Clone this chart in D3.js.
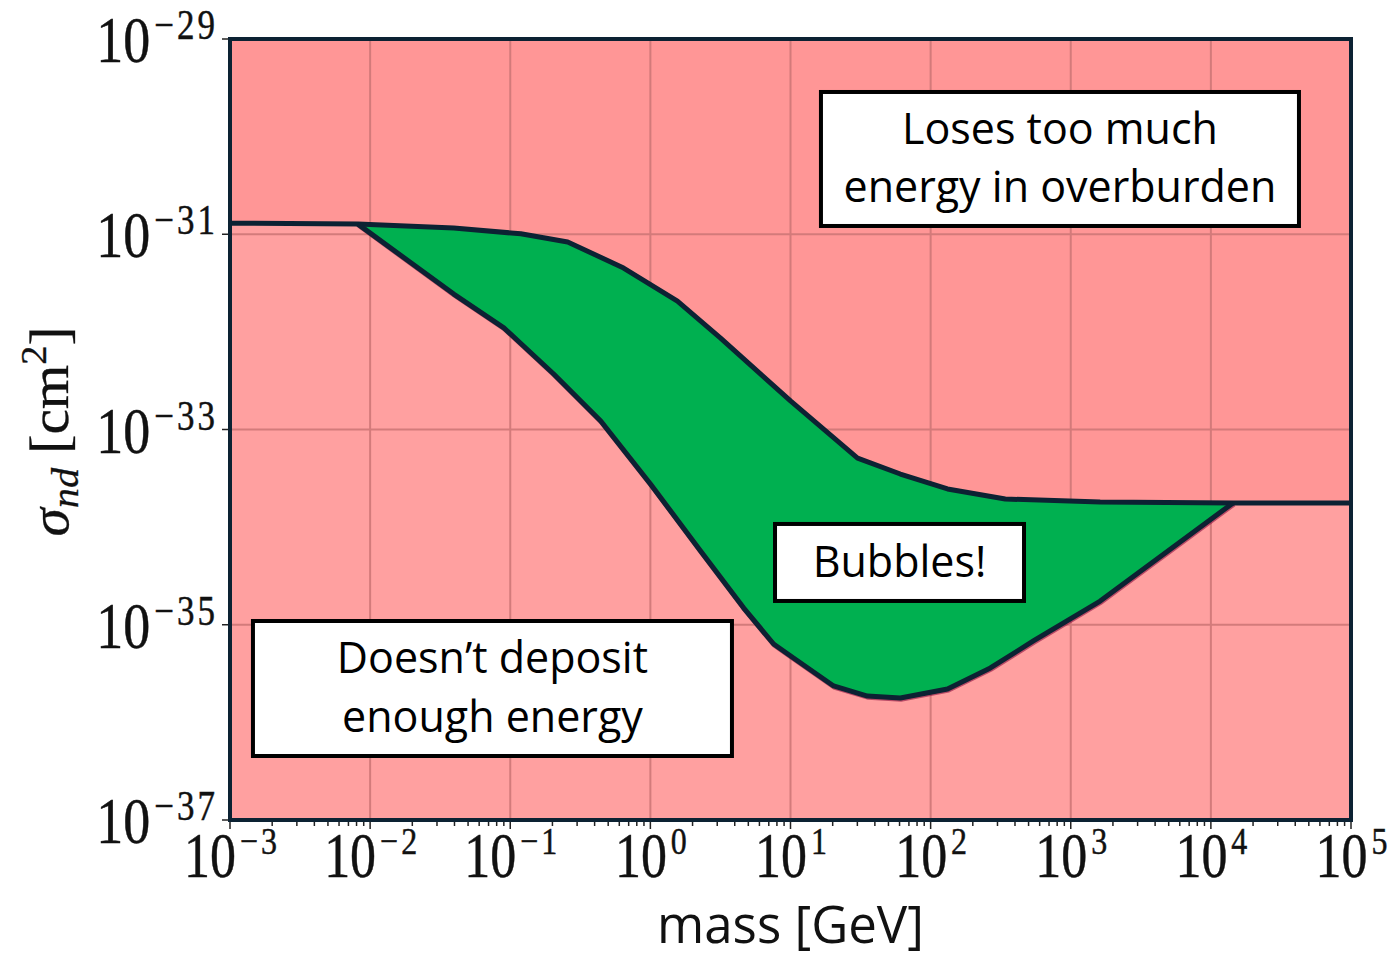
<!DOCTYPE html>
<html>
<head>
<meta charset="utf-8">
<script src="https://cdn.jsdelivr.net/npm/d3@7"></script>
<style>
  html, body { margin: 0; padding: 0; background: #ffffff; }
  svg { display: block; }
</style>
</head>
<body>
<svg id="chart" width="1396" height="957"></svg>
<script>
// ---------------- DATA ----------------
// Upper boundary: above it the particle loses too much energy in the overburden
const upperMass  = [1e-3, 8.18e-3, 3.95e-2, 0.119, 0.257, 0.644, 1.56, 3.17, 10.0, 30.1, 60.8, 132, 341, 1622, 14400, 1e5];
const upperSigma = [1.30e-31, 1.27e-31, 1.16e-31, 1.01e-31, 8.34e-32, 4.51e-32, 2.07e-32, 8.65e-33, 1.96e-33, 5.1e-34, 3.5e-34, 2.46e-34, 1.94e-34, 1.81e-34, 1.77e-34, 1.77e-34];
// Lower boundary of the "Bubbles!" region
const lowerMass  = [8.18e-3, 3.95e-2, 0.090, 0.204, 0.442, 1.0, 2.28, 4.62, 7.57, 10.5, 20.3, 35.4, 60.8, 132, 267, 541, 1622, 14400];
const lowerSigma = [1.27e-31, 2.44e-32, 1.10e-32, 3.70e-33, 1.22e-33, 2.77e-34, 5.69e-35, 1.49e-35, 6.35e-36, 4.56e-36, 2.36e-36, 1.86e-36, 1.78e-36, 2.20e-36, 3.61e-36, 6.82e-36, 1.75e-35, 1.77e-34];

const xTickExps = [-3, -2, -1, 0, 1, 2, 3, 4, 5];
const yTickExps = [-29, -31, -33, -35, -37];
const xLabel = "mass [GeV]";

// annotation boxes (centre in data units)
const boxLines  = [["Loses too much", "energy in overburden"], ["Bubbles!"], ["Doesn\u2019t deposit", "enough energy"]];
const boxMass   = [Math.pow(10, 2.923), Math.pow(10, 1.778), Math.pow(10, -1.127)];
const boxSigma  = [Math.pow(10, -30.229), Math.pow(10, -34.362), Math.pow(10, -35.653)];

// ---------------- LAYOUT ----------------
const X0 = 230, X1 = 1351, Y0 = 39, Y1 = 820;
const boxSize = [[478, 134], [249, 77], [479, 135]];
const boxLineDy = [[-15, 43], [14.5], [-15.5, 43.5]];

const svg = d3.select("#chart");
const x = d3.scaleLog().domain([1e-3, 1e5]).range([X0, X1]);
const y = d3.scaleLog().domain([1e-37, 1e-29]).range([Y1, Y0]);

const upper = upperMass.map((m, i) => [m, upperSigma[i]]);
const lower = lowerMass.map((m, i) => [m, lowerSigma[i]]);

const frameColor = "#0c2233";

svg.append("defs").append("clipPath").attr("id", "plotclip")
  .append("rect").attr("x", X0).attr("y", Y0).attr("width", X1 - X0).attr("height", Y1 - Y0);

const plot = svg.append("g").attr("clip-path", "url(#plotclip)");

// lower pink background
plot.append("rect").attr("x", X0).attr("y", Y0).attr("width", X1 - X0).attr("height", Y1 - Y0)
  .attr("fill", "#ffa0a0");

// upper pink region
plot.append("path")
  .datum(upper)
  .attr("fill", "#ff9696")
  .attr("d", d3.area().x(d => x(d[0])).y0(y(1e-29)).y1(d => y(d[1])));

// grid
const grid = plot.append("g").attr("stroke", "#cf7777").attr("stroke-width", 2).attr("opacity", 0.9);
xTickExps.slice(1, -1).forEach(e => {
  grid.append("line").attr("x1", x(Math.pow(10, e))).attr("x2", x(Math.pow(10, e)))
    .attr("y1", Y0).attr("y2", Y1);
});
yTickExps.slice(1, -1).forEach(e => {
  grid.append("line").attr("y1", y(Math.pow(10, e))).attr("y2", y(Math.pow(10, e)))
    .attr("x1", X0).attr("x2", X1);
});

// green region: upper boundary between green endpoints, then lower reversed
const gStart = lowerMass[0], gEnd = lowerMass[lowerMass.length - 1];
const greenTop = upper.filter(d => d[0] >= gStart && d[0] <= gEnd);
const greenPoly = greenTop.concat(lower.slice().reverse());
plot.append("path")
  .attr("fill", "#00b050")
  .attr("d", d3.line().x(d => x(d[0])).y(d => y(d[1]))(greenPoly) + "Z");

// boundary lines
const line = d3.line().x(d => x(d[0])).y(d => y(d[1]));
plot.append("path").datum(lower).attr("fill", "none").attr("stroke", "#8a1040")
  .attr("stroke-width", 5).attr("transform", "translate(0.8,1.2)").attr("d", line).attr("opacity", 0.6);
plot.append("path").datum(upper).attr("fill", "none").attr("stroke", frameColor)
  .attr("stroke-width", 5).attr("stroke-linejoin", "round").attr("d", line);
plot.append("path").datum(lower).attr("fill", "none").attr("stroke", frameColor)
  .attr("stroke-width", 5).attr("stroke-linejoin", "round").attr("d", line);

// frame
svg.append("rect").attr("x", X0).attr("y", Y0).attr("width", X1 - X0).attr("height", Y1 - Y0)
  .attr("fill", "none").attr("stroke", frameColor).attr("stroke-width", 4);

// x ticks (major + minor)
const ticks = svg.append("g").attr("stroke", "#222").attr("stroke-width", 1.5);
xTickExps.forEach(e => {
  const px = x(Math.pow(10, e));
  ticks.append("line").attr("x1", px).attr("x2", px).attr("y1", Y1 + 2).attr("y2", Y1 + 9);
});
xTickExps.slice(0, -1).forEach(e => {
  for (let j = 2; j <= 9; j++) {
    const px = x(j * Math.pow(10, e));
    ticks.append("line").attr("x1", px).attr("x2", px).attr("y1", Y1 + 2).attr("y2", Y1 + 6);
  }
});
// y ticks
yTickExps.forEach(e => {
  const py = y(Math.pow(10, e));
  ticks.append("line").attr("x1", X0 - 8).attr("x2", X0 - 2).attr("y1", py).attr("y2", py);
});

// tick labels (LaTeX-like, vertically stretched)
const serif = "'Liberation Serif', 'DejaVu Serif', serif";
function powerLabel(g, exp, anchor, base, sup) {
  const t = g.append("text").attr("font-family", serif).attr("fill", "#111")
    .attr("stroke", "#111").attr("stroke-width", 0.4)
    .attr("text-anchor", anchor);
  t.append("tspan").attr("font-size", base).text("10");
  t.append("tspan").attr("font-size", sup).attr("dx", 4).attr("dy", -19)
    .attr("letter-spacing", 3).text((exp < 0 ? "\u2212" : "") + Math.abs(exp));
}
xTickExps.forEach(e => {
  const g = svg.append("g")
    .attr("transform", `translate(${x(Math.pow(10, e)) + 2},${Y1 + 57}) scale(1,1.2)`);
  powerLabel(g, e, "middle", 52, 32);
});
yTickExps.forEach(e => {
  const g = svg.append("g")
    .attr("transform", `translate(${X0 - 12},${y(Math.pow(10, e)) + 23}) scale(1,1.2)`);
  powerLabel(g, e, "end", 54, 35);
});

// axis labels
svg.append("text")
  .attr("x", (X0 + X1) / 2).attr("y", 943)
  .attr("text-anchor", "middle")
  .attr("font-family", "'Open Sans', sans-serif")
  .attr("font-size", 51).attr("fill", "#111")
  .text(xLabel);

const yl = svg.append("g").attr("transform", `translate(68,${(Y0 + Y1) / 2 + 2}) rotate(-90) scale(1.06,1)`)
  .append("text").attr("text-anchor", "middle").attr("font-family", serif)
  .attr("font-size", 54).attr("fill", "#111").attr("stroke", "#111").attr("stroke-width", 0.3);
yl.append("tspan").attr("font-style", "italic").text("\u03C3");
yl.append("tspan").attr("font-style", "italic").attr("font-size", 38).attr("dy", 10).text("nd");
yl.append("tspan").attr("dy", -10).text(" [cm");
yl.append("tspan").attr("font-size", 36).attr("dy", -22).text("2");
yl.append("tspan").attr("dy", 22).text("]");

// annotation boxes
boxLines.forEach((lines, i) => {
  const cx = x(boxMass[i]), cy = y(boxSigma[i]);
  const [w, h] = boxSize[i];
  const g = svg.append("g");
  g.append("rect").attr("x", cx - w / 2).attr("y", cy - h / 2).attr("width", w).attr("height", h)
    .attr("fill", "#ffffff").attr("stroke", "#000").attr("stroke-width", 4);
  lines.forEach((s, k) => {
    g.append("text").attr("x", cx).attr("y", cy + boxLineDy[i][k])
      .attr("text-anchor", "middle")
      .attr("font-family", "'Open Sans', sans-serif")
      .attr("font-size", 43).attr("fill", "#000")
      .text(s);
  });
});
</script>
</body>
</html>
